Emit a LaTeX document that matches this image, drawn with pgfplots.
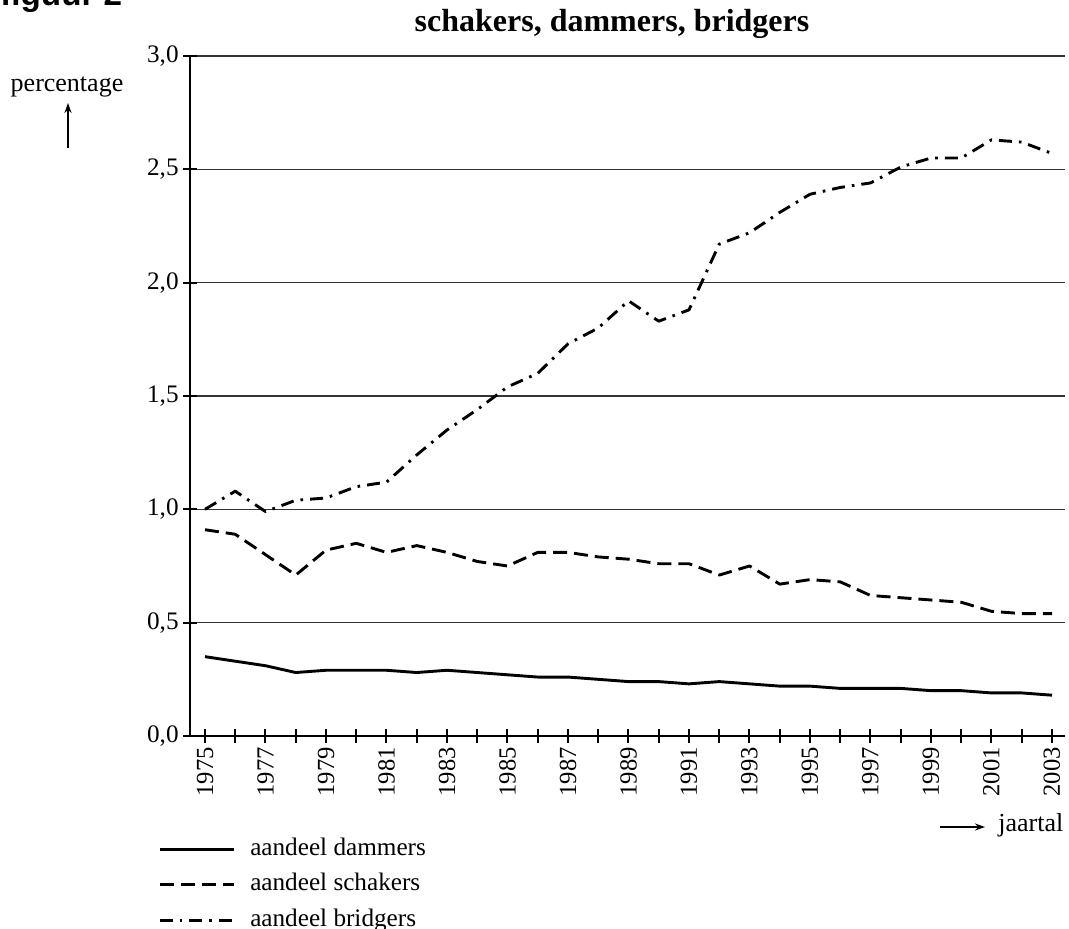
\documentclass[border=0pt]{standalone}
\usepackage{fontspec}
\setmainfont{Liberation Serif}
\newfontfamily\sansbold{Liberation Sans}
\usepackage{pgfplots}
\pgfplotsset{compat=1.18}
\usetikzlibrary{arrows.meta}

\pgfplotstableread{
year dam schaak bridge
1975 0.35 0.91 1.00
1976 0.33 0.89 1.08
1977 0.31 0.80 0.99
1978 0.28 0.71 1.04
1979 0.29 0.82 1.05
1980 0.29 0.85 1.10
1981 0.29 0.81 1.12
1982 0.28 0.84 1.24
1983 0.29 0.81 1.35
1984 0.28 0.77 1.44
1985 0.27 0.75 1.54
1986 0.26 0.81 1.60
1987 0.26 0.81 1.73
1988 0.25 0.79 1.80
1989 0.24 0.78 1.92
1990 0.24 0.76 1.83
1991 0.23 0.76 1.88
1992 0.24 0.71 2.17
1993 0.23 0.75 2.22
1994 0.22 0.67 2.31
1995 0.22 0.69 2.39
1996 0.21 0.68 2.42
1997 0.21 0.62 2.44
1998 0.21 0.61 2.51
1999 0.20 0.60 2.55
2000 0.20 0.59 2.55
2001 0.19 0.55 2.63
2002 0.19 0.54 2.62
2003 0.18 0.54 2.57
}\datatable

\begin{document}
\begin{tikzpicture}
\useasboundingbox (-95pt,-96.5pt) rectangle (439.5pt,368pt);
\begin{axis}[
  at={(0pt,0pt)}, anchor=south west,
  scale only axis,
  width=437.5pt, height=340pt,
  xmin=1974.504, xmax=2003.43,
  ymin=0, ymax=3,
  axis lines=left,
  axis line style={-, line width=1pt},
  xtick={1975,...,2003},
  xticklabels={1975,,1977,,1979,,1981,,1983,,1985,,1987,,1989,,1991,,1993,,1995,,1997,,1999,,2001,,2003},
  ytick={0,0.5,1,1.5,2,2.5,3},
  yticklabels={{0,0},{0,5},{1,0},{1,5},{2,0},{2,5},{3,0}},
  tick align=center,
  major tick length=7pt,
  tick style={black, line width=1pt},
  ymajorgrids,
  major grid style={black!80, line width=0.7pt},
  x tick label style={rotate=90, anchor=east, font=\fontsize{12.3}{14}\selectfont, inner sep=2pt},
  y tick label style={font=\fontsize{12.6}{14}\selectfont, inner sep=2pt},
  legend style={at={(axis description cs:-0.0366,-0.149)}, anchor=north west,
    draw=none, fill=none, inner sep=0pt, row sep=5.6pt, column sep=7.5pt,
    nodes={inner sep=0pt, text height=9pt, text depth=3pt, font=\fontsize{12.6}{14}\selectfont}},
  legend cell align=left,
  legend image code/.code={\draw[#1] (0pt,0pt) -- (37pt,0pt);},
  every axis plot/.append style={line width=1.45pt, line join=round, line cap=butt},
]
\addplot[black, solid] table[x=year, y=dam] {\datatable};
\addlegendentry{aandeel dammers}
\addplot[black, dash pattern=on 7pt off 3.5pt] table[x=year, y=schaak] {\datatable};
\addlegendentry{aandeel schakers}
\addplot[black, dash pattern=on 6.5pt off 3.5pt on 1.3pt off 3.5pt] table[x=year, y=bridge] {\datatable};
\addlegendentry{aandeel bridgers}
\end{axis}
% annotations (1px = 0.5pt)
\node[anchor=base, inner sep=0pt, font=\fontsize{16}{18}\selectfont\bfseries] at (211pt,352pt) {schakers, dammers, bridgers};
\node[anchor=base west, inner sep=0pt, font=\sansbold\fontsize{16.6}{18}\selectfont\bfseries] at (-95pt,365pt) {figuur 2};
\node[anchor=base, inner sep=0pt, font=\fontsize{13}{15}\selectfont] at (-61.5pt,322pt) {percentage};
\draw[line width=0.6pt, -{Stealth[length=5pt,width=3.5pt]}] (-61pt,294pt) -- (-61pt,316.5pt);
\draw[line width=0.6pt, -{Stealth[length=5pt,width=3.5pt]}] (375pt,-45.5pt) -- (397.5pt,-45.5pt);
\node[anchor=base west, inner sep=0pt, font=\fontsize{13}{15}\selectfont] at (404pt,-48pt) {jaartal};
\end{tikzpicture}
\end{document}
